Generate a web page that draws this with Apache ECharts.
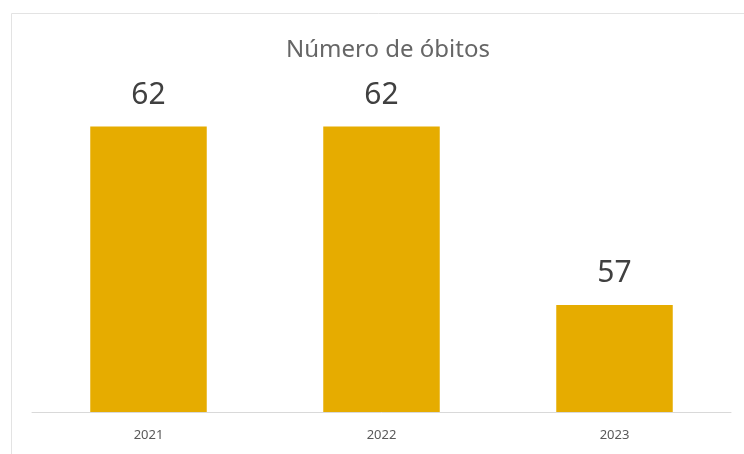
<!DOCTYPE html>
<html>
<head>
<meta charset="utf-8">
<script src="https://cdn.jsdelivr.net/npm/echarts@6/dist/echarts.min.js"></script>
<style>
  html, body { margin: 0; padding: 0; background: #fff; }
  #chart { width: 744px; height: 454px; }
</style>
</head>
<body>
<div id="chart"></div>
<script>
// dados
const anos = ['2021', '2022', '2023']
const obitos = [62, 62, 57]
const eixoMin = 54
const eixoMax = 64

var myChart = echarts.init(document.getElementById('chart'))
myChart.setOption({
  animation: false,
  textStyle: { fontFamily: 'Noto Sans' },
  graphic: [
    {
      type: 'rect',
      shape: { x: 11.5, y: 13.5, width: 800, height: 500 },
      style: { fill: 'none', stroke: '#e3e3e3', lineWidth: 1 }
    }
  ],
  title: {
    text: 'Número de óbitos',
    left: 281,
    top: 33,
    textStyle: {
      color: '#666666',
      fontSize: 24,
      fontWeight: 'normal'
    }
  },
  grid: {
    left: 32,
    right: 13,
    top: 55,
    bottom: 42
  },
  xAxis: {
    type: 'category',
    data: anos,
    axisLine: { lineStyle: { color: '#d9d9d9', width: 1 } },
    axisTick: { show: false },
    axisLabel: { color: '#595959', fontSize: 13, margin: 17 }
  },
  yAxis: {
    type: 'value',
    min: eixoMin,
    max: eixoMax,
    show: false,
    splitLine: { show: false }
  },
  series: [
    {
      type: 'bar',
      data: obitos,
      barWidth: '50%',
      itemStyle: { color: '#e6ac00' },
      label: {
        show: true,
        position: 'top',
        distance: 16,
        color: '#404040',
        fontSize: 30
      }
    }
  ]
})
</script>
</body>
</html>
